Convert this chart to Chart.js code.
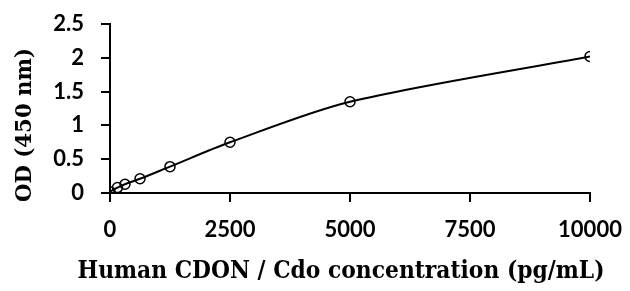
<!DOCTYPE html>
<html>
<head>
<meta charset="utf-8">
<script src="https://cdn.jsdelivr.net/npm/chart.js@4"></script>
<style>
  html, body { margin: 0; padding: 0; background: #fff; }
  #wrap { width: 630px; height: 291px; }
</style>
</head>
<body>
<div id="wrap"><canvas id="chart" width="630" height="291"></canvas></div>
<script>
// Standard curve: concentration (pg/mL) vs OD at 450 nm
const concentrations = [0, 156, 312, 625, 1250, 2500, 5000, 10000];
const odValues = [0.02, 0.08, 0.13, 0.21, 0.39, 0.75, 1.35, 2.02];
const xTicks = [0, 2500, 5000, 7500, 10000];
const yTicks = [0, 0.5, 1, 1.5, 2, 2.5];
const xTitle = 'Human CDON / Cdo concentration (pg/mL)';
const yTitle = 'OD (450 nm)';

const points = concentrations.map((c, i) => ({ x: c, y: odValues[i] }));

const tickFont = { family: 'Lato', size: 22, weight: 'bold' };

// axis titles drawn by hand so they sit where the original has them
const axisTitles = {
    id: 'axisTitles',
    afterDraw(chart) {
        const { ctx, chartArea } = chart;
        ctx.save();
        ctx.fillStyle = '#000';
        ctx.textAlign = 'center';
        ctx.textBaseline = 'middle';
        ctx.font = 'bold 24px "DejaVu Serif"';
        ctx.fillText(xTitle, (chartArea.left + chartArea.right) / 2 - 9, 272, 527);
        ctx.translate(25, 125);
        ctx.rotate(-Math.PI / 2);
        ctx.font = 'bold 22px "DejaVu Serif"';
        ctx.fillText(yTitle, 0, 0, 154);
        ctx.restore();
    }
};

new Chart(document.getElementById('chart'), {
    type: 'scatter',
    data: {
        datasets: [{
            label: 'Fit',
            data: points,
            showLine: true,
            tension: 0.3,
            borderColor: '#000',
            borderWidth: 2,
            pointRadius: 0,
            order: 2
        }, {
            label: 'Standards',
            data: points,
            showLine: false,
            pointRadius: 5,
            pointBorderWidth: 1.5,
            pointBorderColor: '#000',
            pointBackgroundColor: 'rgba(255,255,255,0)',
            order: 1
        }]
    },
    options: {
        responsive: false,
        animation: false,
        layout: { padding: { top: 24, right: 40, left: 0, bottom: 0 } },
        plugins: {
            legend: { display: false },
            tooltip: { enabled: false }
        },
        scales: {
            x: {
                type: 'linear',
                min: 0,
                max: 10000,
                afterBuildTicks: axis => { axis.ticks = xTicks.map(v => ({ value: v })); },
                afterFit: axis => {
                    axis.height = 98;
                    axis.paddingLeft = 0;
                    axis.paddingRight = 0;
                },
                ticks: { color: '#000', font: tickFont, padding: 15, maxRotation: 0, callback: v => String(v) },
                grid: { drawOnChartArea: false, tickLength: 9, color: '#000', lineWidth: 2 },
                border: { color: '#000', width: 2 }
            },
            y: {
                min: 0,
                max: 2.5,
                afterBuildTicks: axis => { axis.ticks = yTicks.map(v => ({ value: v })); },
                afterFit: axis => {
                    axis.width = 110;
                    axis.paddingTop = 0;
                    axis.paddingBottom = 0;
                },
                ticks: { color: '#000', font: tickFont, padding: 17, callback: v => String(v) },
                grid: { drawOnChartArea: false, tickLength: 9, color: '#000', lineWidth: 2 },
                border: { color: '#000', width: 2 }
            }
        }
    },
    plugins: [axisTitles]
});
</script>
</body>
</html>
